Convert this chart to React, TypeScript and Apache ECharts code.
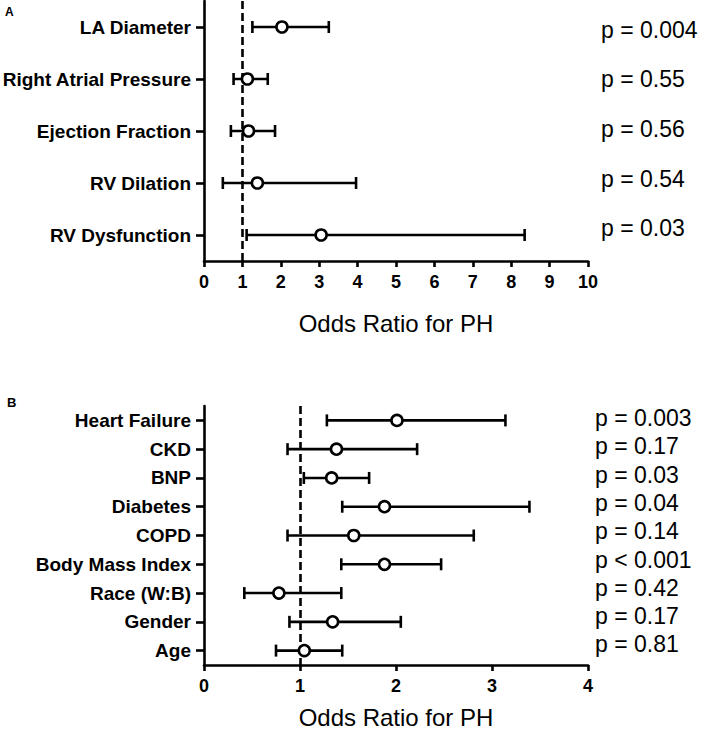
import React, { useEffect, useRef } from "react";
import * as echarts from "echarts";

const labelsA = ["LA Diameter", "Right Atrial Pressure", "Ejection Fraction", "RV Dilation", "RV Dysfunction"];
const orA = [2.03, 1.13, 1.16, 1.39, 3.05];
const lowA = [1.26, 0.77, 0.7, 0.49, 1.11];
const highA = [3.25, 1.66, 1.85, 3.96, 8.35];
const pA = ["p = 0.004", "p = 0.55", "p = 0.56", "p = 0.54", "p = 0.03"];

const labelsB = ["Heart Failure", "CKD", "BNP", "Diabetes", "COPD", "Body Mass Index", "Race (W:B)", "Gender", "Age"];
const orB = [2.01, 1.38, 1.33, 1.88, 1.56, 1.88, 0.78, 1.34, 1.045];
const lowB = [1.28, 0.87, 1.04, 1.44, 0.87, 1.43, 0.42, 0.89, 0.75];
const highB = [3.14, 2.22, 1.72, 3.39, 2.81, 2.47, 1.43, 2.05, 1.44];
const pB = ["p = 0.003", "p = 0.17", "p = 0.03", "p = 0.04", "p = 0.14", "p < 0.001", "p = 0.42", "p = 0.17", "p = 0.81"];

const xTicksA = { min: 0, max: 10, interval: 1 };
const xTicksB = { min: 0, max: 4, interval: 1 };
const axisTitle = "Odds Ratio for PH";

const FONT = "'Liberation Sans', Arial, Helvetica, sans-serif";
const BLACK = "#000";

function errRender(params: any, api: any) {
  const lo = api.coord([api.value(0), api.value(2)]);
  const hi = api.coord([api.value(1), api.value(2)]);
  const h = 6;
  const style = { stroke: BLACK, lineWidth: 2.6, fill: "none" };
  return {
    type: "group",
    children: [
      { type: "line", shape: { x1: lo[0], y1: lo[1], x2: hi[0], y2: hi[1] }, style },
      { type: "line", shape: { x1: lo[0], y1: lo[1] - h, x2: lo[0], y2: lo[1] + h }, style },
      { type: "line", shape: { x1: hi[0], y1: hi[1] - h, x2: hi[0], y2: hi[1] + h }, style },
    ],
  };
}

function makeAxes(idx: number, labels: string[], ticks: any, nameGap: number) {
  const x = {
    type: "value",
    gridIndex: idx,
    min: ticks.min,
    max: ticks.max,
    interval: ticks.interval,
    name: axisTitle,
    nameLocation: "middle",
    nameGap,
    nameTextStyle: { fontFamily: FONT, fontSize: 24, color: BLACK },
    axisLine: { show: true, lineStyle: { color: BLACK, width: 2.6 } },
    axisTick: { show: true, length: 6, lineStyle: { color: BLACK, width: 2.6 } },
    axisLabel: { margin: 12, fontFamily: FONT, fontSize: 18, fontWeight: "bold", color: BLACK },
    splitLine: { show: false },
  };
  const y = {
    type: "category",
    gridIndex: idx,
    data: labels,
    inverse: true,
    axisLine: { show: true, lineStyle: { color: BLACK, width: 2.6 } },
    axisTick: { show: true, alignWithLabel: true, length: 8, lineStyle: { color: BLACK, width: 2.6 } },
    axisLabel: { margin: 13, fontFamily: FONT, fontSize: 19, fontWeight: "bold", color: BLACK },
    splitLine: { show: false },
  };
  return { x, y };
}

function makeSeries(idx: number, or: number[], low: number[], high: number[]) {
  return [
    {
      type: "custom",
      xAxisIndex: idx,
      yAxisIndex: idx,
      renderItem: errRender,
      encode: { x: [0, 1], y: 2 },
      data: low.map((l, i) => [l, high[i], i]),
      z: 2,
      silent: true,
    },
    {
      type: "scatter",
      xAxisIndex: idx,
      yAxisIndex: idx,
      data: or.map((v, i) => [v, i]),
      symbol: "circle",
      symbolSize: 11,
      itemStyle: { color: "#fff", borderColor: BLACK, borderWidth: 2.6, opacity: 1 },
      z: 3,
      silent: true,
      markLine: {
        silent: true,
        symbol: "none",
        label: { show: false },
        lineStyle: { color: BLACK, width: 2.6, type: [8, 4] },
        data: [{ xAxis: 1 }],
        z: 1,
      },
    },
  ];
}

export default function App() {
  const ref = useRef<HTMLDivElement>(null);
  useEffect(() => {
    if (!ref.current) return;
    const chart = echarts.init(ref.current, null, { renderer: "svg" });
    const a = makeAxes(0, labelsA, xTicksA, 50);
    const b = makeAxes(1, labelsB, xTicksB, 40);
    const pTextsA = pA.map((t, i) => ({
      type: "text",
      left: 601,
      top: 30 + i * 49.7 - 12,
      style: { text: t, fontFamily: FONT, fontSize: 23, fill: BLACK },
    }));
    const pTextsB = pB.map((t, i) => ({
      type: "text",
      left: 595,
      top: 418.5 + i * 28.3 - 12,
      style: { text: t, fontFamily: FONT, fontSize: 23, fill: BLACK },
    }));
    chart.setOption({
      animation: false,
      backgroundColor: "#fff",
      grid: [
        { left: 204, top: 1, width: 384, height: 260, containLabel: false, outerBoundsMode: "none" },
        { left: 204, top: 406, width: 384, height: 259, containLabel: false, outerBoundsMode: "none" },
      ],
      xAxis: [a.x, b.x],
      yAxis: [a.y, b.y],
      series: [...makeSeries(0, orA, lowA, highA), ...makeSeries(1, orB, lowB, highB)],
      graphic: [
        { type: "text", left: 5, top: 6, style: { text: "A", fontFamily: FONT, fontSize: 12, fontWeight: "bold", fill: BLACK } },
        { type: "text", left: 7, top: 396, style: { text: "B", fontFamily: FONT, fontSize: 13, fontWeight: "bold", fill: BLACK } },
        ...pTextsA,
        ...pTextsB,
      ],
    });
    return () => chart.dispose();
  }, []);
  return <div ref={ref} style={{ position: "fixed", left: 0, top: 0, width: 709, height: 730 }} />;
}
